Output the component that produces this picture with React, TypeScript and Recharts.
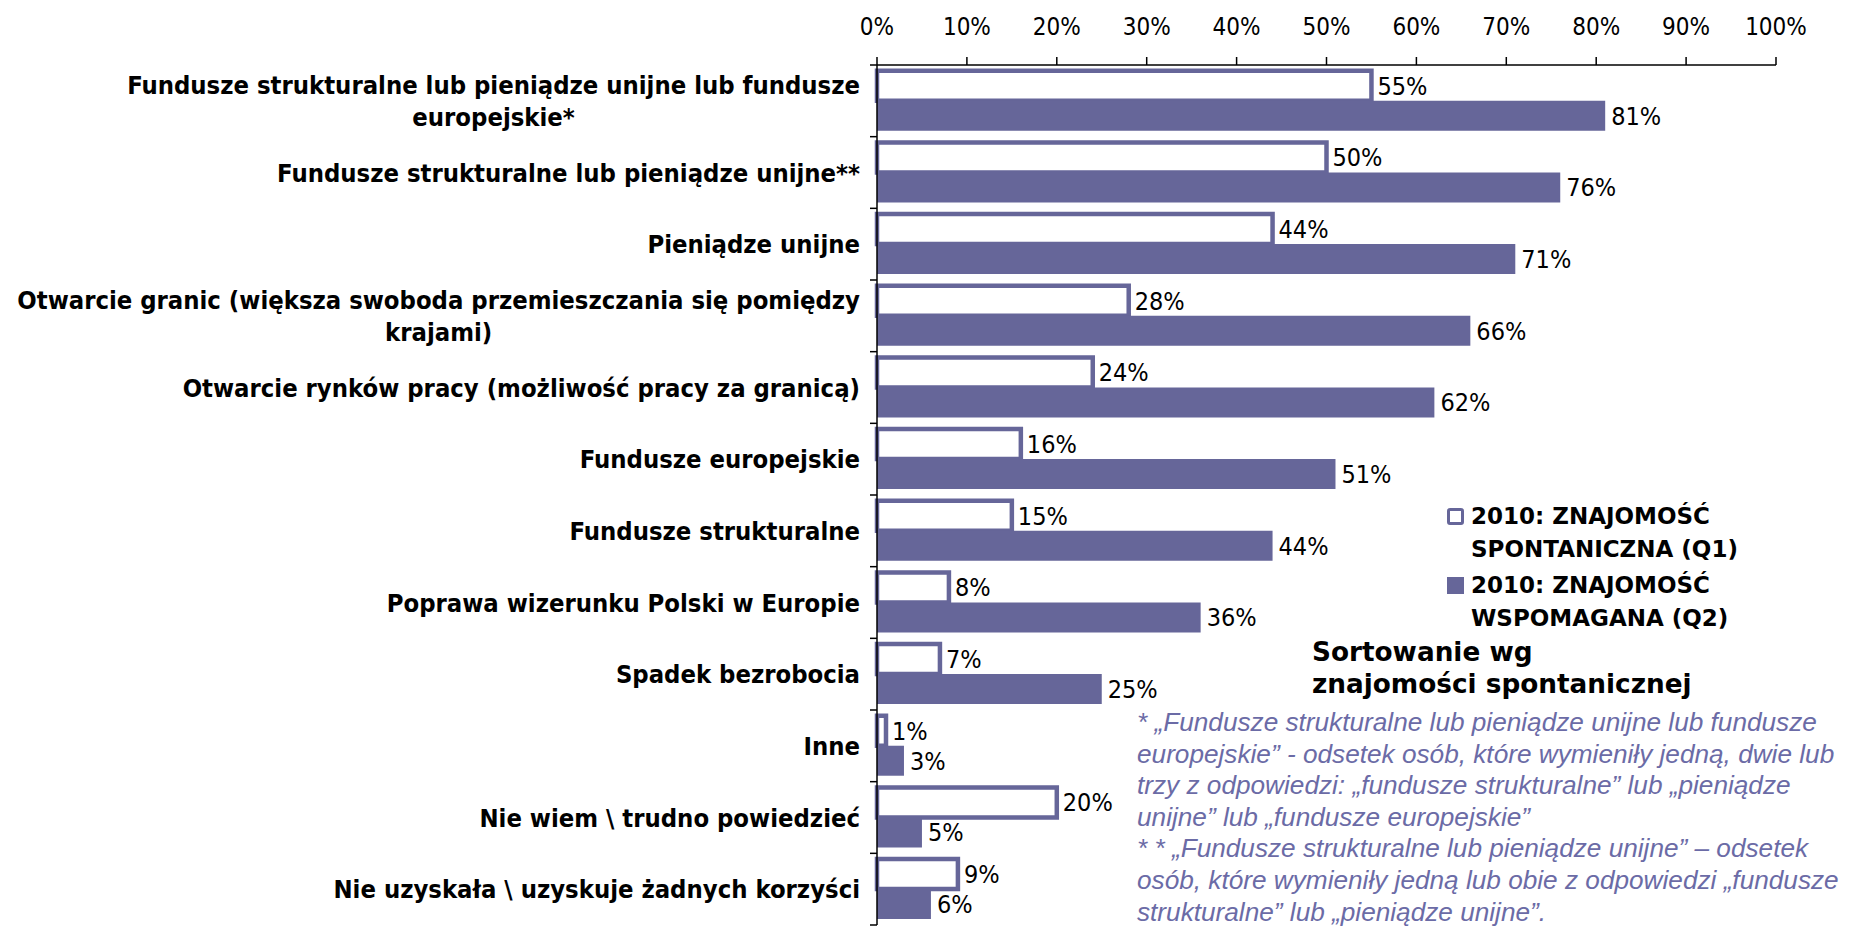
import React from 'react';
import { BarChart, Bar, XAxis, YAxis, LabelList } from 'recharts';

const categories = [
  'Fundusze strukturalne lub pieniądze unijne lub fundusze europejskie*',
  'Fundusze strukturalne lub pieniądze unijne**',
  'Pieniądze unijne',
  'Otwarcie granic (większa swoboda przemieszczania się pomiędzy krajami)',
  'Otwarcie rynków pracy (możliwość pracy za granicą)',
  'Fundusze europejskie',
  'Fundusze strukturalne',
  'Poprawa wizerunku Polski w Europie',
  'Spadek bezrobocia',
  'Inne',
  'Nie wiem \\ trudno powiedzieć',
  'Nie uzyskała \\ uzyskuje żadnych korzyści',
];

const spontaneous = [55, 50, 44, 28, 24, 16, 15, 8, 7, 1, 20, 9];
const prompted = [81, 76, 71, 66, 62, 51, 44, 36, 25, 3, 5, 6];

const xTicks = [0, 10, 20, 30, 40, 50, 60, 70, 80, 90, 100];

const seriesNames = ['2010: ZNAJOMOŚĆ SPONTANICZNA (Q1)', '2010: ZNAJOMOŚĆ WSPOMAGANA (Q2)'];

const footnoteLines = [
  '* „Fundusze strukturalne lub pieniądze unijne lub fundusze',
  'europejskie” - odsetek osób, które wymieniły jedną, dwie lub',
  'trzy z odpowiedzi: „fundusze strukturalne” lub „pieniądze',
  'unijne” lub „fundusze europejskie”',
  '* * „Fundusze strukturalne lub pieniądze unijne” – odsetek',
  'osób, które wymieniły jedną lub obie z odpowiedzi „fundusze',
  'strukturalne” lub „pieniądze unijne”.',
];

const data = categories.map((name, i) => ({ name, q1: spontaneous[i], q2: prompted[i] }));

const W = 1854;
const H = 927;
const MARGIN = { top: 8, right: 78, bottom: 2, left: 0 };
const X_AXIS_H = 57;
const Y_AXIS_W = 877;
const TICK_MARGIN = 17;
const PLOT_H = H - MARGIN.top - MARGIN.bottom - X_AXIS_H;
const BAND = PLOT_H / categories.length;

const PURPLE = '#666699';
const NARROW = "'DejaVu Sans Condensed', 'DejaVu Sans', sans-serif";

function wrap(text: string, max = 61): string[] {
  const words = text.split(' ');
  const lines: string[] = [];
  let cur = '';
  for (const w of words) {
    const next = cur ? cur + ' ' + w : w;
    if (next.length > max && cur) {
      lines.push(cur);
      cur = w;
    } else cur = next;
  }
  if (cur) lines.push(cur);
  return lines;
}

const CategoryTick = (props: any) => {
  const { x, y, payload, index } = props;
  const lines = wrap(String(payload.value));
  const axisX = x + TICK_MARGIN;
  return (
    <g>
      <line x1={axisX - 7} x2={axisX} y1={y - BAND / 2} y2={y - BAND / 2} stroke="#000" strokeWidth={1.5} />
      {index === categories.length - 1 && (
        <line x1={axisX - 7} x2={axisX} y1={y + BAND / 2} y2={y + BAND / 2} stroke="#000" strokeWidth={1.5} />
      )}
      <foreignObject x={x - 870} y={y - 40} width={870} height={80}>
        <div
          style={{
            display: 'flex',
            justifyContent: 'flex-end',
            alignItems: 'center',
            height: '100%',
            width: '100%',
          }}
        >
          <div
            style={{
              textAlign: 'center',
              fontFamily: NARROW,
              fontWeight: 'bold',
              fontSize: 25.4,
              lineHeight: '32px',
              color: '#000',
              whiteSpace: 'nowrap',
            }}
          >
            {lines.map((l, i) => (
              <div key={i}>{l}</div>
            ))}
          </div>
        </div>
      </foreignObject>
    </g>
  );
};

const pct = (v: any) => `${v}%`;

export default function App() {
  return (
    <div style={{ position: 'absolute', left: 0, top: 0, width: W, height: H, background: '#fff' }}>
      <BarChart
        width={W}
        height={H}
        data={data}
        layout="vertical"
        margin={MARGIN}
        barCategoryGap="8%"
        barGap={0}
      >
        <XAxis
          type="number"
          orientation="top"
          domain={[0, 100]}
          ticks={xTicks}
          tickFormatter={pct}
          height={X_AXIS_H}
          interval={0}
          tickSize={8}
          tickMargin={22}
          axisLine={{ stroke: '#000', strokeWidth: 1.5 }}
          tickLine={{ stroke: '#000', strokeWidth: 1.5 }}
          tick={{ fill: '#000', fontSize: 24, fontFamily: NARROW }}
        />
        <YAxis
          type="category"
          dataKey="name"
          width={Y_AXIS_W}
          interval={0}
          tickSize={0}
          tickMargin={TICK_MARGIN}
          tickLine={false}
          axisLine={{ stroke: '#000', strokeWidth: 1.5 }}
          tick={<CategoryTick />}
        />
        <Bar dataKey="q1" fill="#ffffff" stroke={PURPLE} strokeWidth={4.5} isAnimationActive={false}>
          <LabelList dataKey="q1" position="right" offset={6} formatter={pct} fill="#000" fontSize={25} fontFamily={NARROW} />
        </Bar>
        <Bar dataKey="q2" fill={PURPLE} isAnimationActive={false}>
          <LabelList dataKey="q2" position="right" offset={6} formatter={pct} fill="#000" fontSize={25} fontFamily={NARROW} />
        </Bar>
      </BarChart>

      {/* Legend */}
      <div style={{ position: 'absolute', left: 1447, top: 500, fontFamily: "'DejaVu Sans', sans-serif", fontWeight: 'bold', fontSize: 23, lineHeight: '33px', color: '#000', whiteSpace: 'nowrap' }}>
        {seriesNames.map((s, i) => {
          const parts = s.split(' ');
          const l1 = parts.slice(0, 2).join(' ');
          const l2 = parts.slice(2).join(' ');
          return (
            <div key={i} style={{ display: 'flex', alignItems: 'flex-start', marginBottom: 3 }}>
              <div
                style={{
                  width: i === 0 ? 11 : 17,
                  height: i === 0 ? 11 : 17,
                  marginTop: 8,
                  marginRight: 7,
                  background: i === 0 ? '#fff' : PURPLE,
                  border: i === 0 ? `3px solid ${PURPLE}` : 'none',
                  borderRadius: i === 0 ? 3 : 0,
                  flex: 'none',
                }}
              />
              <div>
                <div>{l1}</div>
                <div>{l2}</div>
              </div>
            </div>
          );
        })}
      </div>

      <div style={{ position: 'absolute', left: 1312, top: 636, fontFamily: "'DejaVu Sans', sans-serif", fontWeight: 'bold', fontSize: 26.3, lineHeight: '32px', color: '#000', whiteSpace: 'nowrap' }}>
        <div>Sortowanie wg</div>
        <div>znajomości spontanicznej</div>
      </div>

      <div style={{ position: 'absolute', left: 1137, top: 707, fontFamily: "'Liberation Sans', sans-serif", fontStyle: 'italic', fontSize: 26.2, lineHeight: '31.6px', color: '#6b6ba6', whiteSpace: 'nowrap' }}>
        {footnoteLines.map((l, i) => (
          <div key={i}>{l}</div>
        ))}
      </div>
    </div>
  );
}
